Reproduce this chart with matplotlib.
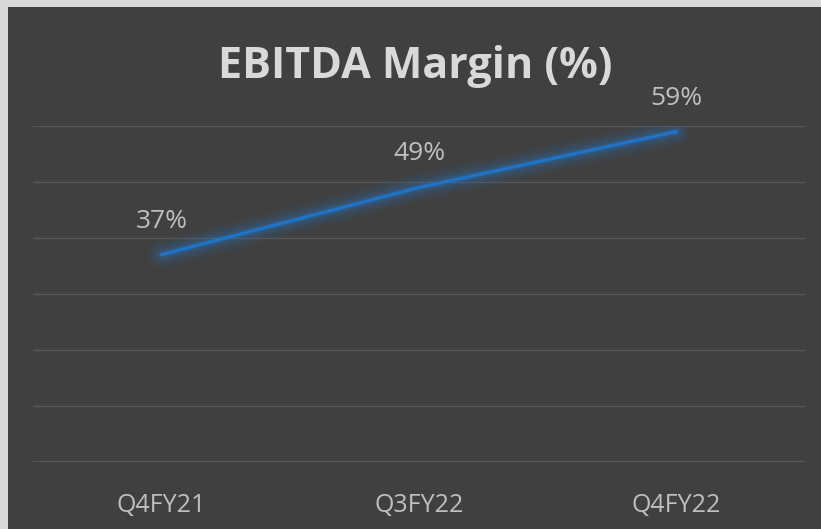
import matplotlib.pyplot as plt

quarters = ["Q4FY21", "Q3FY22", "Q4FY22"]
margin = [37, 49, 59]
y_ticks = [0, 10, 20, 30, 40, 50, 60]

bg = "#404040"
fig = plt.figure(figsize=(8.21, 5.29), dpi=100, facecolor="#d9d9d9")
# dark panel, offset to leave the light frame at top/left
fig.patches.append(plt.Rectangle((8 / 821, 0), 1, 1 - 7 / 529, transform=fig.transFigure,
                                 facecolor=bg, edgecolor="none", zorder=-1))

ax = fig.add_axes([33 / 821, (529 - 462) / 529, (805 - 33) / 821, (462 - 126) / 529])
ax.set_facecolor(bg)
x = list(range(len(quarters)))

# soft glow around the line
for lw, a in [(20, 0.07), (15, 0.10), (10, 0.16), (6, 0.25)]:
    ax.plot(x, margin, color="#2a6db5", lw=lw, alpha=a, solid_capstyle="round", zorder=2)
ax.plot(x, margin, color="#1f72c4", lw=2.5, solid_capstyle="round", zorder=3)

for xi, v in zip(x, margin):
    ax.annotate(f"{v}%", (xi, v), xytext=(0, 19.5), textcoords="offset points",
                ha="center", va="baseline", fontsize=19, color="#bfbfbf",
                family="Open Sans", clip_on=False)

ax.set_xlim(-0.5, 2.5)
ax.set_ylim(-0.1, 60)
ax.set_yticks(y_ticks)
ax.yaxis.grid(True, color="#585858", lw=1)
ax.set_axisbelow(True)
ax.tick_params(left=False, bottom=False, labelleft=False)
ax.set_xticks(x)
ax.set_xticklabels(quarters, fontsize=18, color="#bfbfbf", family="Open Sans")
ax.tick_params(axis="x", pad=19)
for s in ax.spines.values():
    s.set_visible(False)

fig.text(415 / 821, 1 - 66 / 529, "EBITDA Margin (%)", ha="center", va="center",
         fontsize=31, fontweight="bold", color="#d9d9d9", family="Open Sans")

fig.savefig("out.png", dpi=100, facecolor=fig.get_facecolor())
